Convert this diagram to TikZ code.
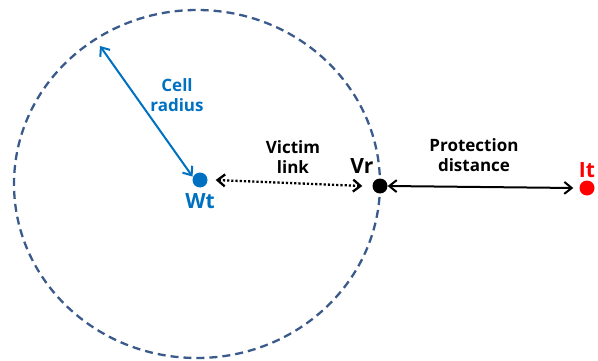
\documentclass[tikz,border=0pt]{standalone}
\usepackage{fontspec}
\setmainfont{Open Sans}
\usepackage{tikz}
\usetikzlibrary{positioning,arrows.meta}
\definecolor{cellblue}{HTML}{0070C0}
\definecolor{ringblue}{HTML}{3B5A8C}

\begin{document}
\begin{tikzpicture}[
    x=1pt, y=-1pt,
    dot/.style={
        circle,
        fill,
        minimum size=15pt,
        inner sep=0pt
    },
    linklabel/.style={
        align=center,
        font=\bfseries\fontsize{17}{20}\selectfont,
        inner sep=1pt
    },
    sitename/.style={
        font=\bfseries\fontsize{21}{23}\selectfont,
        inner sep=1pt
    },
    arrow/.style={{Straight Barb[length=2.6mm,width=4.2mm]}-{Straight Barb[length=2.6mm,width=4.2mm]}, line width=2pt}
]
\useasboundingbox (0,0) rectangle (598,361);
\draw[ringblue, dash pattern=on 8pt off 5pt, line width=2.3pt] (197,184) ellipse [x radius=183, y radius=174];

\node[dot, cellblue] (wt) at (200,180) {};
\node[dot, black] (vr) at (380,186) {};
\node[dot, red] (it) at (587,188) {};
\coordinate (rim) at (100,46);

\node[sitename, cellblue, below=5pt of wt] (wtname) {Wt};
\node[sitename, above left=6pt and 0pt of vr] (vrname) {Vr};
\node[sitename, red, above=1pt of it] (itname) {It};

\node[linklabel, cellblue] (radius) at (177,95) {Cell\\radius};
\node[linklabel] (victim) at (293,157) {Victim\\link};
\node[linklabel] (prot) at (474,155) {Protection\\distance};

\draw[arrow, cellblue] (rim) -- ([shift={(-2pt,-2pt)}]wt.north west);
\draw[arrow, dash pattern=on 2.2pt off 2pt, line width=2.3pt] ([xshift=8pt]wt.east) -- ([xshift=-10pt]vr.west);
\draw[arrow] (vr.east) -- ([xshift=-6pt]it.west);
\end{tikzpicture}
\end{document}
